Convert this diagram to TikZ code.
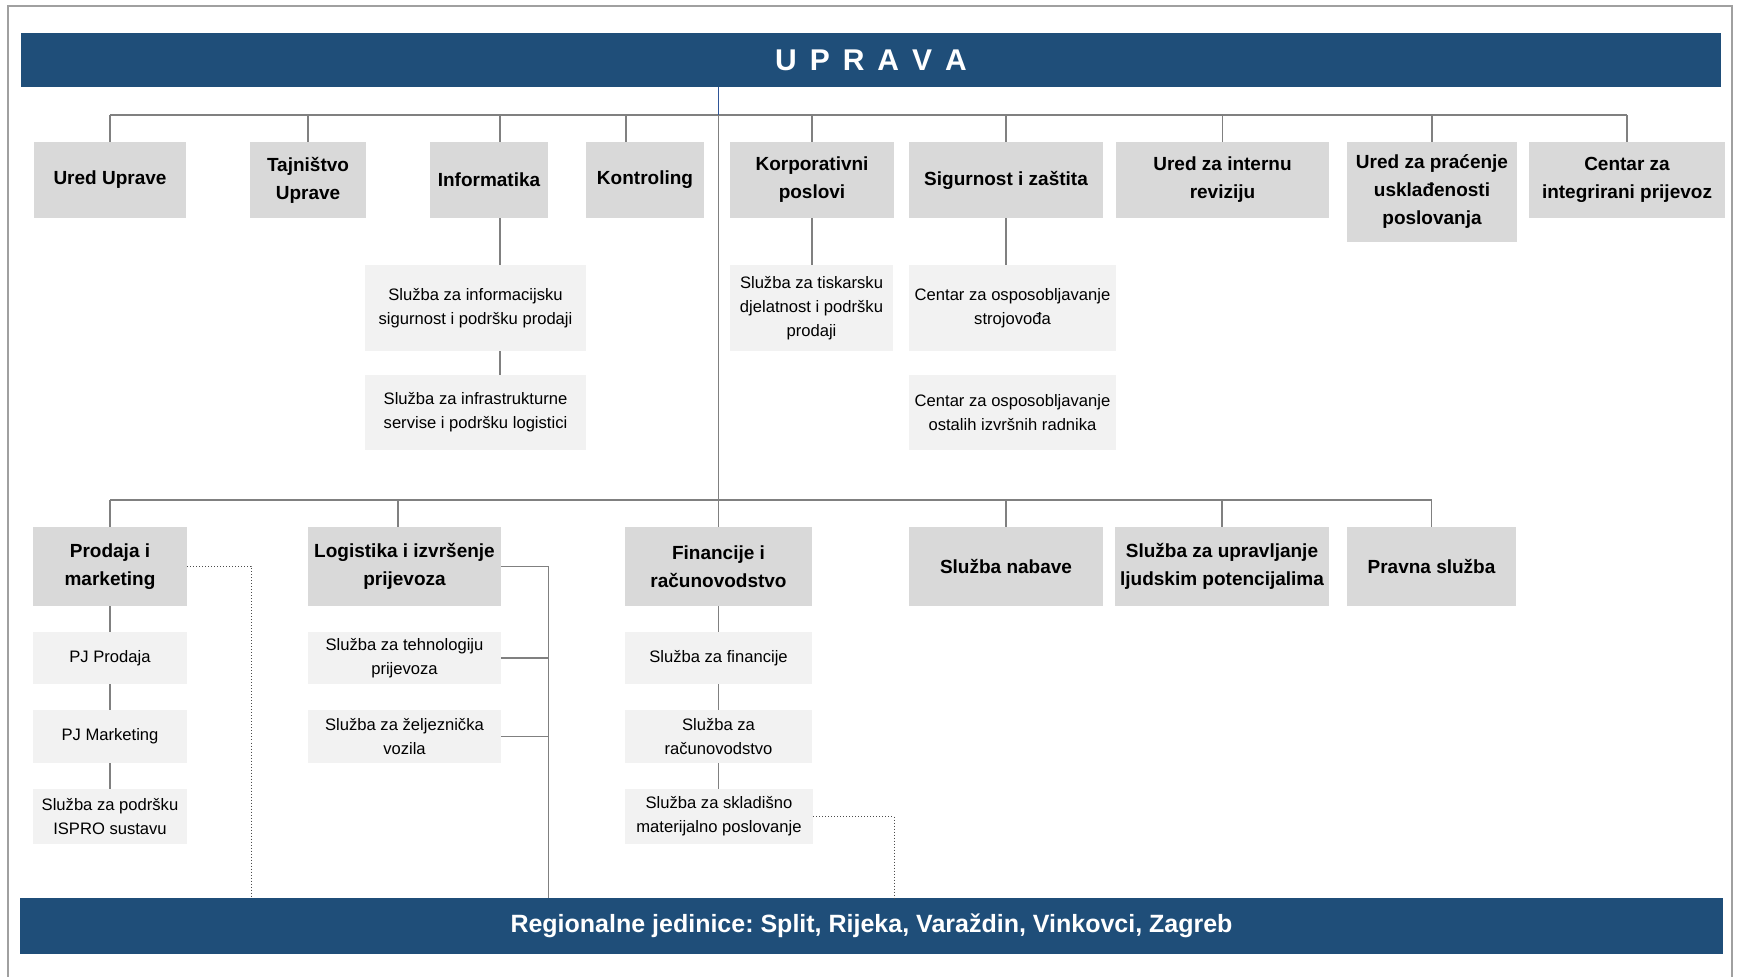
\documentclass[tikz,border=0pt]{standalone}
\usepackage{fontspec}
\setmainfont{Liberation Sans}
\frenchspacing
\definecolor{barblue}{RGB}{31,78,121}
\definecolor{boxgray}{RGB}{217,217,217}
\definecolor{subgray}{RGB}{242,242,242}
\definecolor{linegray}{RGB}{128,128,128}
\definecolor{topblue}{RGB}{47,85,151}
\definecolor{framegray}{RGB}{160,160,160}
\begin{document}
\begin{tikzpicture}[x=0.5pt,y=-0.5pt,
	bar/.style={fill=barblue,text=white,inner sep=0pt},
	unit/.style={fill=boxgray,align=center,inner sep=0pt,minimum height=38pt,
		font=\fontsize{9.5}{14}\selectfont\bfseries},
	subunit/.style={fill=subgray,align=center,inner sep=0pt,
		font=\fontsize{8.3}{12}\selectfont},
	link/.style={draw=linegray,line width=0.75pt},
	dotlink/.style={draw=black!70,line width=0.5pt,densely dotted}]
		\useasboundingbox (0,0) rectangle (1740,977);
		\draw[framegray,line width=0.8pt] (8,977) -- (8,6) -- (1732,6) -- (1732,977);
		
		% bars
		\node[bar,minimum width=850pt,minimum height=27pt,font=\fontsize{15}{18}\selectfont\bfseries] (UPR) at (871,60) {\spaceskip=6.5pt U P R A V A};
		\node[bar,minimum width=851.5pt,minimum height=28pt,font=\fontsize{12.5}{15}\selectfont\bfseries] (REG) at (871.5,926) {Regionalne jedinice: Split, Rijeka, Varaždin, Vinkovci, Zagreb};
		
		% first row
		\node[unit,minimum width=76pt] (URED) at (110,180) {Ured Uprave};
		\node[unit,minimum width=58pt] (TAJ) at (308,180) {Tajništvo\\Uprave};
		\node[unit,minimum width=59pt] (INF) at (489,180) {Informatika};
		\node[unit,minimum width=59pt] (KON) at (645,180) {Kontroling};
		\node[unit,minimum width=82pt] (KOR) at (812,180) {Korporativni\\poslovi};
		\node[unit,minimum width=97pt] (SIG) at (1006,180) {Sigurnost i zaštita};
		\node[unit,minimum width=106.5pt] (REV) at (1222.5,180) {Ured za internu\\reviziju};
		\node[unit,minimum width=85pt,minimum height=50pt] (USK) at (1432,192) {Ured za praćenje\\usklađenosti\\poslovanja};
		\node[unit,minimum width=98pt] (CIP) at (1627,180) {Centar za\\integrirani prijevoz};
		
		\node[subunit,minimum width=110.5pt,minimum height=43pt] (INF1) at (475.5,308) {Služba za informacijsku\\sigurnost i podršku prodaji};
		\node[subunit,minimum width=110.5pt,minimum height=37.5pt] (INF2) at (475.5,412.5) {Služba za infrastrukturne\\servise i podršku logistici};
		\node[subunit,minimum width=81.5pt,minimum height=43pt] (KOR1) at (811.5,308) {Služba za tiskarsku\\djelatnost i podršku\\prodaji};
		\node[subunit,minimum width=103.5pt,minimum height=43pt] (SIG1) at (1012.5,308) {Centar za osposobljavanje\\strojovođa};
		\node[subunit,minimum width=103.5pt,minimum height=37.5pt] (SIG2) at (1012.5,412.5) {Centar za osposobljavanje\\ostalih izvršnih radnika};
		
		% second row
		\node[unit,minimum width=77pt,minimum height=39.5pt] (PRM) at (110,566.5) {Prodaja i\\marketing};
		\node[unit,minimum width=96.5pt,minimum height=39.5pt] (LOG) at (404.5,566.5) {Logistika i izvršenje\\prijevoza};
		\node[unit,minimum width=93.5pt,minimum height=39.5pt] (FIN) at (718.5,566.5) {Financije i\\računovodstvo};
		\node[unit,minimum width=97pt,minimum height=39.5pt] (NAB) at (1006,566.5) {Služba nabave};
		\node[unit,minimum width=107pt,minimum height=39.5pt] (LJP) at (1222,566.5) {Služba za upravljanje\\ljudskim potencijalima};
		\node[unit,minimum width=84.5pt,minimum height=39.5pt] (PRA) at (1431.5,566.5) {Pravna služba};
		
		\node[subunit,minimum width=77pt,minimum height=26pt] (PJP) at (110,658) {PJ Prodaja};
		\node[subunit,minimum width=77pt,minimum height=26.5pt] (PJM) at (110,736.5) {PJ Marketing};
		\node[subunit,minimum width=77pt,minimum height=27.5pt] (ISP) at (110,816.5) {Služba za podršku\\ISPRO sustavu};
		\node[subunit,minimum width=96.5pt,minimum height=26pt] (LOG1) at (404.5,658) {Služba za tehnologiju\\prijevoza};
		\node[subunit,minimum width=96.5pt,minimum height=26.5pt] (LOG2) at (404.5,736.5) {Služba za željeznička\\vozila};
		\node[subunit,minimum width=93.5pt,minimum height=26pt] (FIN1) at (718.5,658) {Služba za financije};
		\node[subunit,minimum width=93.5pt,minimum height=26.5pt] (FIN2) at (718.5,736.5) {Služba za\\računovodstvo};
		\node[subunit,minimum width=94pt,minimum height=27.5pt] (FIN3) at (719,816.5) {Služba za skladišno\\materijalno poslovanje};
		
		% upper bus
		\coordinate (B1) at (0,115);
		\draw[link] (URED.north |- B1) -- (CIP.north |- B1);
		\foreach \n in {URED,TAJ,KOR,SIG,REV,USK,CIP}
			\draw[link] (\n.north) -- (\n.north |- B1);
		\draw[link] ([xshift=5.5pt]INF.north) -- ([xshift=5.5pt]INF.north |- B1);
		\draw[link] ([xshift=-9.5pt]KON.north) -- ([xshift=-9.5pt]KON.north |- B1);
		\draw[topblue,line width=0.6pt] (FIN.north |- UPR.south) -- (FIN.north |- B1);
		\draw[link] (FIN.north |- B1) -- (FIN.north);
		
		\draw[link] ([xshift=5.5pt]INF.south) -- ([xshift=5.5pt]INF.south |- INF1.north);
		\draw[link] ([xshift=12.25pt]INF1.south) -- ([xshift=12.25pt]INF2.north);
		\draw[link] (KOR.south) -- (KOR.south |- KOR1.north);
		\draw[link] (SIG.south) -- (SIG.south |- SIG1.north);
		
		% lower bus
		\coordinate (B2) at (0,500);
		\draw[link] (PRM.north |- B2) -- (PRA.north |- B2);
		\foreach \n in {PRM,NAB,LJP,PRA}
			\draw[link] (\n.north) -- (\n.north |- B2);
		\draw[link] ([xshift=-3.25pt]LOG.north) -- ([xshift=-3.25pt]LOG.north |- B2);
		
		\draw[link] (PRM) -- (PJP);
		\draw[link] (PJP) -- (PJM);
		\draw[link] (PJM) -- (ISP);
		\draw[link] (FIN) -- (FIN1);
		\draw[link] (FIN1) -- (FIN2);
		\draw[link] (FIN2.south) -- (FIN2.south |- FIN3.north);
		
		\draw[link] (LOG.east) -- ++(23.5pt,0) coordinate (LB) -- (LB |- REG.north);
		\draw[link] (LOG1.east) -- (LOG1.east -| LB);
		\draw[link] (LOG2.east) -- (LOG2.east -| LB);
		
		\draw[dotlink] (PRM.east) -- ++(32pt,0) coordinate (PB) -- (PB |- REG.north);
		\draw[dotlink] (FIN3.east) -- ++(40.5pt,0) coordinate (FB) -- (FB |- REG.north);
\end{tikzpicture}
\end{document}
